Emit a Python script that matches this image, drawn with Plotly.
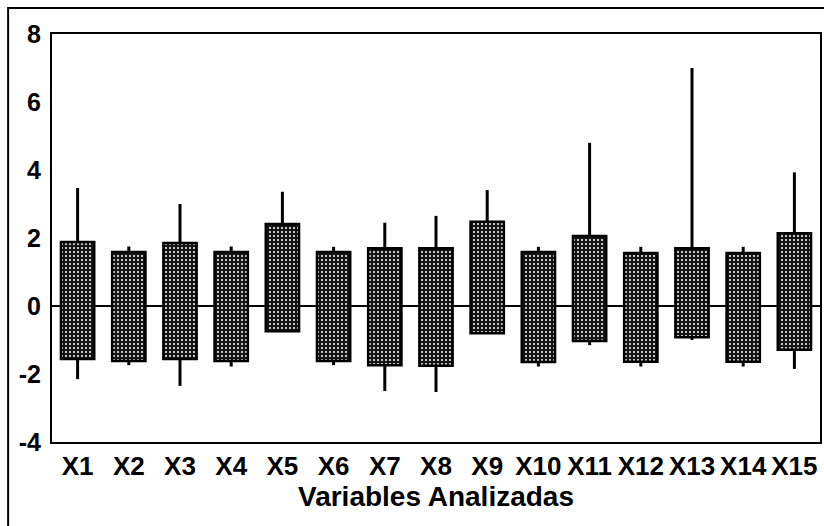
import plotly.graph_objects as go

categories = ["X1", "X2", "X3", "X4", "X5", "X6", "X7", "X8", "X9", "X10",
              "X11", "X12", "X13", "X14", "X15"]
box_high = [1.88, 1.59, 1.85, 1.59, 2.41, 1.59, 1.70, 1.70, 2.48, 1.59,
            2.06, 1.56, 1.70, 1.56, 2.14]
box_low = [-1.56, -1.62, -1.56, -1.62, -0.74, -1.62, -1.74, -1.76, -0.80, -1.65,
           -1.03, -1.64, -0.92, -1.64, -1.29]
whisk_high = [3.47, 1.75, 3.00, 1.75, 3.36, 1.74, 2.45, 2.65, 3.41, 1.74,
              4.80, 1.74, 7.00, 1.74, 3.93]
whisk_low = [-2.15, -1.74, -2.35, -1.78, -0.74, -1.74, -2.50, -2.53, -0.80, -1.78,
             -1.15, -1.78, -1.00, -1.78, -1.85]
y_ticks = [-4, -2, 0, 2, 4, 6, 8]

FONT = "Liberation Sans"

fig = go.Figure()

fig.add_trace(go.Bar(
    x=categories,
    y=[h - l for h, l in zip(box_high, box_low)],
    base=box_low,
    width=0.65,
    marker=dict(
        color="#111111",
        line=dict(color="black", width=2.5),
        pattern=dict(shape=".", bgcolor="#151515", fgcolor="white",
                     size=4, solidity=0.2, fillmode="replace"),
    ),
    showlegend=False,
    hoverinfo="skip",
))

wx, wy = [], []
for c, bh, wh, bl, wl in zip(categories, box_high, whisk_high, box_low, whisk_low):
    wx += [c, c, None, c, c, None]
    wy += [bh, wh, None, bl, wl, None]

fig.add_trace(go.Scatter(
    x=wx, y=wy, mode="lines",
    line=dict(color="black", width=3),
    showlegend=False, hoverinfo="skip", connectgaps=False,
))

W, H = 824, 526
L, R, T, B = 52, 2, 34, 84
pw, ph = W - L - R, H - T - B

def px_x(px):
    return (px - L) / pw

def px_y(py):
    return (H - B - py) / ph

fig.add_shape(type="rect", xref="paper", yref="paper",
              x0=px_x(8), x1=px_x(840), y0=px_y(560), y1=px_y(8),
              line=dict(color="black", width=2), fillcolor="rgba(0,0,0,0)",
              layer="below")

fig.update_layout(
    width=W, height=H,
    margin=dict(l=L, r=R, t=T, b=B, pad=0),
    paper_bgcolor="white", plot_bgcolor="white",
    font=dict(family=FONT, color="black"),
    xaxis=dict(
        type="category",
        categoryorder="array", categoryarray=categories,
        range=[-0.5, len(categories) - 0.5],
        showline=True, linecolor="black", linewidth=2, mirror=True,
        showgrid=False, zeroline=False, ticks="",
        tickfont=dict(family=FONT, size=26, color="black", weight="bold"),
        title=dict(text="<b>Variables Analizadas</b>", standoff=0,
                   font=dict(family=FONT, size=28, color="black")),
    ),
    yaxis=dict(
        range=[-4, 8],
        tickvals=y_ticks, ticktext=[str(v) for v in y_ticks],
        showline=True, linecolor="black", linewidth=2, mirror=True,
        showgrid=False,
        zeroline=True, zerolinecolor="black", zerolinewidth=2,
        ticks="", ticklabelstandoff=4,
        tickfont=dict(family=FONT, size=25, color="black", weight="bold"),
    ),
)

fig.write_html(
    "out.html",
    config={"displayModeBar": False},
    post_script="document.body.style.margin='0';document.body.style.overflow='hidden';",
)
